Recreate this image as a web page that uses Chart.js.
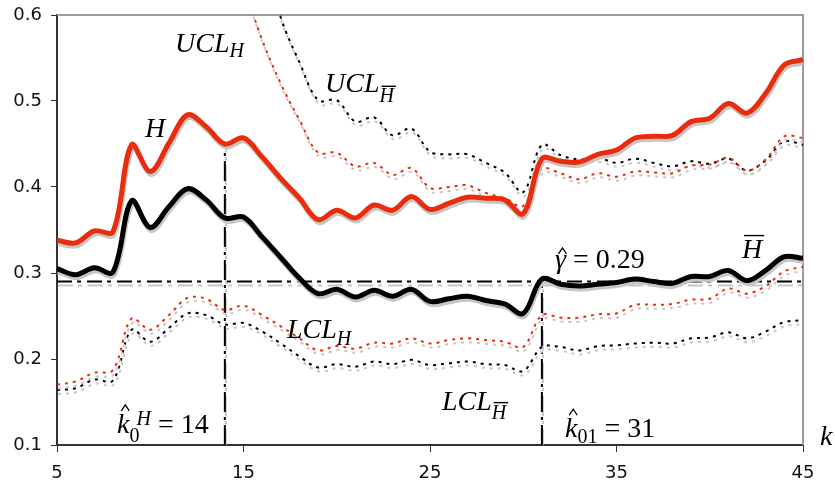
<!DOCTYPE html>
<html>
<head>
<meta charset="utf-8">
<script src="https://cdn.jsdelivr.net/npm/chart.js@4.4.1/dist/chart.umd.min.js"></script>
<style>
  html, body { margin: 0; padding: 0; background: #fff; }
</style>
</head>
<body>
<canvas id="chart" width="835" height="487"></canvas>
<script>
// k = 5..45
const k = [5, 6, 7, 8, 9, 10, 11, 12, 13, 14, 15, 16, 17, 18, 19, 20, 21, 22, 23, 24, 25,
  26, 27, 28, 29, 30, 31, 32, 33, 34, 35, 36, 37, 38, 39, 40, 41, 42, 43, 44, 45];

const H = [0.338, 0.335, 0.349, 0.348, 0.449, 0.418, 0.451, 0.484, 0.470, 0.450,
  0.457, 0.435, 0.410, 0.387, 0.362, 0.373, 0.364, 0.379, 0.373, 0.389,
  0.374, 0.381, 0.388, 0.387, 0.385, 0.369, 0.433, 0.430, 0.429, 0.438,
  0.443, 0.457, 0.459, 0.460, 0.476, 0.480, 0.497, 0.486, 0.509, 0.542, 0.548];

const Hbar = [0.305, 0.298, 0.306, 0.301, 0.384, 0.353, 0.377, 0.398, 0.385, 0.364,
  0.365, 0.342, 0.318, 0.294, 0.276, 0.281, 0.272, 0.280, 0.273, 0.281,
  0.267, 0.270, 0.273, 0.268, 0.264, 0.253, 0.293, 0.287, 0.285, 0.287,
  0.289, 0.293, 0.290, 0.288, 0.296, 0.296, 0.303, 0.291, 0.303, 0.319, 0.317];

const uclH = [null, null, null, null, null, null, null, null, null, 0.700,
  0.635, 0.571, 0.520, 0.478, 0.440, 0.440, 0.424, 0.428, 0.414, 0.422,
  0.399, 0.400, 0.402, 0.393, 0.387, 0.378, 0.421, 0.416, 0.409, 0.416,
  0.412, 0.418, 0.417, 0.416, 0.425, 0.426, 0.434, 0.419, 0.432, 0.459, 0.457];

const uclHbar = [null, null, null, null, null, null, null, null, null, null,
  null, 0.680, 0.597, 0.545, 0.501, 0.501, 0.476, 0.481, 0.460, 0.468,
  0.441, 0.438, 0.438, 0.428, 0.417, 0.394, 0.449, 0.437, 0.432, 0.434,
  0.428, 0.433, 0.428, 0.424, 0.430, 0.427, 0.433, 0.419, 0.431, 0.453, 0.449];

const lclH = [0.170, 0.174, 0.184, 0.187, 0.247, 0.234, 0.251, 0.271, 0.270, 0.257,
  0.262, 0.251, 0.238, 0.224, 0.210, 0.215, 0.212, 0.219, 0.218, 0.224,
  0.218, 0.222, 0.224, 0.222, 0.220, 0.214, 0.251, 0.248, 0.248, 0.252,
  0.253, 0.263, 0.263, 0.264, 0.269, 0.270, 0.282, 0.276, 0.285, 0.302, 0.307];

const lclHbar = [0.164, 0.166, 0.176, 0.175, 0.234, 0.220, 0.236, 0.253, 0.251, 0.240,
  0.242, 0.232, 0.218, 0.203, 0.190, 0.194, 0.191, 0.197, 0.194, 0.199,
  0.193, 0.195, 0.197, 0.194, 0.193, 0.186, 0.214, 0.214, 0.210, 0.215,
  0.216, 0.218, 0.219, 0.218, 0.224, 0.225, 0.231, 0.224, 0.232, 0.243, 0.245];

const xTicks = [5, 15, 25, 35, 45];
const yTicks = [0.1, 0.2, 0.3, 0.4, 0.5, 0.6];

const gamma = 0.29;   // threshold
const k0H = 14;       // change point for H
const k01 = 31;       // change point for H bar

const RED = '#ea2c0c';
const SHADOW = '#c6c6c6';
const serif = '"Liberation Serif", "Times New Roman", serif';

const pts = arr => k.map((x, i) => ({ x: x, y: arr[i] }));
const yAt = (arr, x) => arr[k.indexOf(x)];

// gray drop shadow under every line
const shadowPlugin = {
  id: 'shadow',
  beforeDatasetDraw(chart, args) {
    const ds = chart.data.datasets[args.index];
    const ctx = chart.ctx;
    ctx.save();
    ctx.shadowColor = SHADOW;
    ctx.shadowBlur = 0;
    ctx.shadowOffsetX = 1;
    ctx.shadowOffsetY = ds.borderWidth > 3 ? 3 : 4;
  },
  afterDatasetDraw(chart) {
    chart.ctx.restore();
  }
};

// gray top / right frame
const framePlugin = {
  id: 'frame',
  beforeDatasetsDraw(chart) {
    const { ctx, chartArea: a } = chart;
    ctx.save();
    ctx.strokeStyle = '#9a9a9a';
    ctx.lineWidth = 2;
    ctx.beginPath();
    ctx.moveTo(a.left, a.top);
    ctx.lineTo(a.right, a.top);
    ctx.lineTo(a.right, a.bottom);
    ctx.stroke();
    ctx.restore();
  }
};

function hat(ctx, cx, yb) {
  ctx.save();
  ctx.lineWidth = 1.3;
  ctx.beginPath();
  ctx.moveTo(cx - 4, yb);
  ctx.lineTo(cx, yb - 6);
  ctx.lineTo(cx + 4, yb);
  ctx.stroke();
  ctx.restore();
}

// draw a run of text pieces (sub/superscripts, bars, hats)
function put(ctx, x, y, parts) {
  let cx = x;
  for (const p of parts) {
    const size = p.small ? 20 : 28;
    ctx.font = (p.it ? 'italic ' : '') + size + 'px ' + serif;
    const w = ctx.measureText(p.t).width;
    const px = cx + (p.dx || 0);
    const py = y + (p.dy || 0);
    ctx.fillText(p.t, px, py);
    if (p.bar) ctx.fillRect(px + 2, py - size * 0.84, w, 1.4);
    if (p.hat) hat(ctx, px + w / 2 + 2, py - p.hat);
    if (!p.keep) cx = px + w;
  }
}

const labels = [
  { k: 11.33, v: 0.557, parts: [{ t: 'UCL', it: 1 }, { t: 'H', it: 1, small: 1, dy: 5 }] },
  { k: 9.72, v: 0.458, parts: [{ t: 'H', it: 1 }] },
  { k: 19.37, v: 0.510, parts: [{ t: 'UCL', it: 1 }, { t: 'H', it: 1, small: 1, dy: 10, bar: 1 }] },
  { k: 17.33, v: 0.224, parts: [{ t: 'LCL', it: 1 }, { t: 'H', it: 1, small: 1, dy: 7 }] },
  { k: 25.64, v: 0.141, parts: [{ t: 'LCL', it: 1 }, { t: 'H', it: 1, small: 1, dy: 9, bar: 1 }] },
  { k: 31.70, v: 0.306, parts: [{ t: 'γ', it: 1, hat: 14 }, { t: ' = 0.29' }] },
  { k: 41.73, v: 0.317, parts: [{ t: 'H', it: 1, bar: 1 }] },
  { k: 8.22, v: 0.114, parts: [{ t: 'k', it: 1, hat: 22 }, { t: '0', small: 1, dy: 9, keep: 1 },
    { t: 'H', it: 1, small: 1, dy: -8, dx: 7 }, { t: ' = 14' }] },
  { k: 32.24, v: 0.109, parts: [{ t: 'k', it: 1, hat: 22 }, { t: '01', small: 1, dy: 6 }, { t: ' = 31' }] },
  { k: 45.91, v: 0.100, parts: [{ t: 'k', it: 1 }] }
];

const labelPlugin = {
  id: 'mathLabels',
  afterDatasetsDraw(chart) {
    const { ctx, scales } = chart;
    ctx.save();
    ctx.fillStyle = '#000';
    ctx.strokeStyle = '#000';
    ctx.textBaseline = 'alphabetic';
    labels.forEach(l => put(ctx, scales.x.getPixelForValue(l.k), scales.y.getPixelForValue(l.v), l.parts));
    ctx.restore();
  }
};

const tickFont = { family: '"DejaVu Sans", Verdana, sans-serif', size: 18 };

new Chart(document.getElementById('chart'), {
  type: 'line',
  data: {
    datasets: [
      { data: pts(H), borderColor: RED, borderWidth: 5, tension: 0.35 },
      { data: pts(Hbar), borderColor: '#000', borderWidth: 5, tension: 0.35 },
      { data: pts(uclH), borderColor: RED, borderWidth: 2, borderDash: [3, 5], tension: 0.35 },
      { data: pts(uclHbar), borderColor: '#000', borderWidth: 2, borderDash: [3, 5], tension: 0.35 },
      { data: pts(lclH), borderColor: RED, borderWidth: 2, borderDash: [3, 5], tension: 0.35 },
      { data: pts(lclHbar), borderColor: '#000', borderWidth: 2, borderDash: [3, 5], tension: 0.35 },
      { data: [{ x: k[0], y: gamma }, { x: k[k.length - 1], y: gamma }],
        borderColor: '#000', borderWidth: 2, borderDash: [15, 5, 4, 6] },
      { data: [{ x: k0H, y: yTicks[0] }, { x: k0H, y: yAt(H, k0H) }],
        borderColor: '#000', borderWidth: 2, borderDash: [20, 5, 3, 5] },
      { data: [{ x: k01, y: yTicks[0] }, { x: k01, y: yAt(Hbar, k01) }],
        borderColor: '#000', borderWidth: 2, borderDash: [20, 5, 3, 5] }
    ]
  },
  options: {
    responsive: false,
    animation: false,
    devicePixelRatio: 1,
    layout: { padding: { top: 15, right: 32, left: 0, bottom: 0 } },
    elements: { point: { radius: 0 }, line: { borderCapStyle: 'butt', fill: false } },
    plugins: { legend: { display: false }, tooltip: { enabled: false } },
    scales: {
      x: {
        type: 'linear', min: 5, max: 45,
        afterBuildTicks: s => { s.ticks = xTicks.map(v => ({ value: v })); },
        afterFit: s => { s.height = 42; s.paddingLeft = 0; s.paddingRight = 0; },
        grid: { drawOnChartArea: false, drawTicks: true, tickLength: 7, color: '#333' },
        border: { color: '#333', width: 2 },
        ticks: { font: tickFont, color: '#111', padding: 11, maxRotation: 0 }
      },
      y: {
        min: 0.1, max: 0.6,
        afterBuildTicks: s => { s.ticks = yTicks.map(v => ({ value: v })); },
        afterFit: s => { s.width = 57; s.paddingTop = 0; s.paddingBottom = 0; },
        grid: { drawOnChartArea: false, drawTicks: true, tickLength: 6, color: '#333' },
        border: { color: '#333', width: 2 },
        ticks: { font: tickFont, color: '#111', padding: 9, callback: v => v.toFixed(1) }
      }
    }
  },
  plugins: [shadowPlugin, framePlugin, labelPlugin]
});
</script>
</body>
</html>
